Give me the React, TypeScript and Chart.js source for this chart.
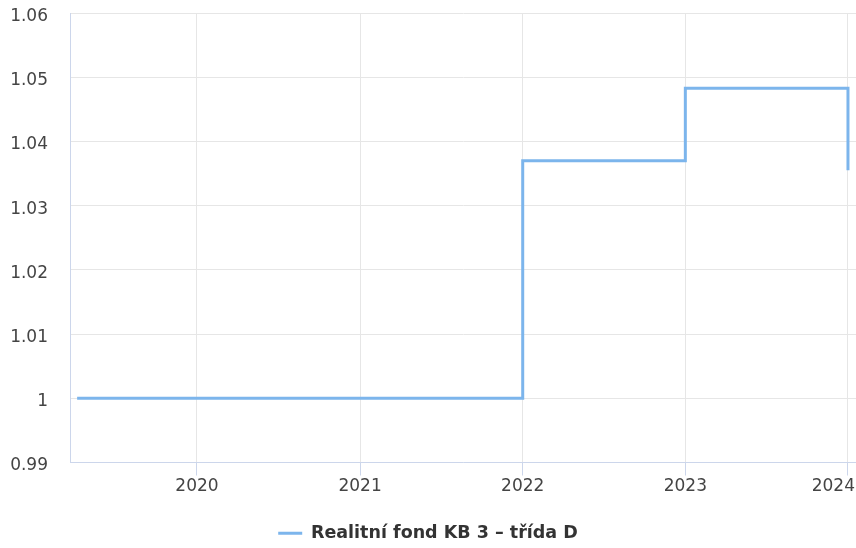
import React, { useEffect, useRef } from "react";
import { Chart, registerables } from "chart.js";

Chart.register(...registerables);

const seriesName = "Realitní fond KB 3 – třída D";
const pointDates = ["2019-04-07", "2022-01-01", "2023-01-01", "2024-01-01"];
const pointValues = [1.0, 1.037, 1.0483, 1.0355];
const tickYears = [2020, 2021, 2022, 2023, 2024];
const xMinDate = "2019-03-22";
const xMaxDate = "2024-01-19";
const yMin = 0.99;
const yMax = 1.06;
const yStep = 0.01;

const FONT = '"DejaVu Sans", sans-serif';
const LABEL_COLOR = "#444444";

const fmtY = (v: number) => String(Number(Number(v).toFixed(2)));

const axisLabelPlugin = {
  id: "axisLabelPlugin",
  afterDraw(chart: any) {
    const sx = chart.scales.x;
    const sy = chart.scales.y;
    const ctx = chart.ctx;
    ctx.save();
    ctx.font = `17px ${FONT}`;
    ctx.fillStyle = LABEL_COLOR;
    ctx.textBaseline = "middle";
    ctx.textAlign = "center";
    sx.ticks.forEach((t: any) => {
      const label = String(new Date(t.value).getUTCFullYear());
      const w = ctx.measureText(label).width;
      let x = sx.getPixelForValue(t.value);
      x = Math.min(x, chart.width - w / 2 - 1);
      x = Math.max(x, w / 2);
      ctx.fillText(label, x, sx.top + 24);
    });
    ctx.textAlign = "right";
    sy.ticks.forEach((t: any) => {
      const y = sy.getPixelForValue(t.value);
      ctx.fillText(fmtY(t.value), sy.right - 22, y + 3.5);
    });
    ctx.restore();
  },
};

export default function App() {
  const ref = useRef<HTMLCanvasElement | null>(null);
  useEffect(() => {
    document.body.style.margin = "0";
    const data = pointDates.map((d, i) => ({ x: new Date(d).getTime(), y: pointValues[i] }));
    const chart = new Chart(ref.current as HTMLCanvasElement, {
      type: "line",
      data: {
        datasets: [
          {
            label: seriesName,
            data,
            borderColor: "#7cb5ec",
            backgroundColor: "#7cb5ec",
            borderWidth: 3,
            pointRadius: 0,
            stepped: true,
            fill: false,
          },
        ],
      },
      plugins: [axisLabelPlugin],
      options: {
        animation: false,
        responsive: false,
        layout: { padding: { top: 13, left: 0, right: 0, bottom: -4 } },
        plugins: {
          tooltip: { enabled: false },
          legend: {
            position: "bottom",
            labels: {
              boxWidth: 24,
              boxHeight: 3,
              color: "#333333",
              font: { family: FONT, size: 17.5, weight: "bold" },
              padding: 10,
              generateLabels: (chart: any) => {
                const items = Chart.defaults.plugins.legend.labels.generateLabels(chart);
                return items.map((it: any) => ({ ...it, lineWidth: 0, strokeStyle: "rgba(0,0,0,0)" }));
              },
            },
          },
        },
        scales: {
          x: {
            type: "linear",
            min: new Date(xMinDate).getTime(),
            max: new Date(xMaxDate).getTime(),
            afterBuildTicks: (scale: any) => {
              scale.ticks = tickYears.map((y) => ({ value: Date.UTC(y, 0, 1) }));
            },
            afterFit: (scale: any) => {
              scale.paddingLeft = 0;
              scale.paddingRight = 0;
              scale.height = 52;
            },
            ticks: {
              color: "rgba(0,0,0,0)",
              font: { family: FONT, size: 17 },
              maxRotation: 0,
              autoSkip: false,
              callback: (v: any) => String(new Date(Number(v)).getUTCFullYear()),
            },
            grid: {
              color: "#e6e6e6",
              tickColor: "#ccd6eb",
              tickLength: 13,
              lineWidth: 1,
            },
            border: { display: true, color: "#ccd6eb", width: 1 },
          },
          y: {
            min: yMin,
            max: yMax,
            afterFit: (scale: any) => {
              scale.width = 70;
              scale.paddingTop = 0;
              scale.paddingBottom = 0;
            },
            ticks: {
              stepSize: yStep,
              color: "rgba(0,0,0,0)",
              padding: 22,
              font: { family: FONT, size: 17 },
              callback: (v: any) => fmtY(v),
            },
            grid: { color: "#e6e6e6", drawTicks: false, lineWidth: 1 },
            border: { display: true, color: "#ccd6eb", width: 1 },
          },
        },
      },
    });
    return () => chart.destroy();
  }, []);
  return (
    <div style={{ position: "absolute", left: 0, top: 0, width: 856, height: 548 }}>
      <canvas ref={ref} width={856} height={548} style={{ width: 856, height: 548 }} />
    </div>
  );
}
